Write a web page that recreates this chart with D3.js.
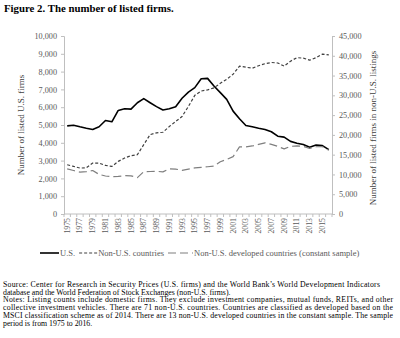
<!DOCTYPE html>
<html>
<head>
<meta charset="utf-8">
<script src="https://cdn.jsdelivr.net/npm/d3@7/dist/d3.min.js"></script>
<style>
  body { margin: 0; background: #fff; }
  text { font-family: "Liberation Serif", "Times New Roman", serif; }
</style>
</head>
<body>
<div id="chart"></div>
<script>
// Anos da série
const years = d3.range(1975, 2017);

// Empresas listadas nos EUA (eixo esquerdo)
const usFirms = [4950, 4990, 4900, 4820, 4750, 4900, 5250, 5180, 5820, 5910,
  5890, 6250, 6480, 6250, 6030, 5840, 5910, 6030, 6500, 6850,
  7100, 7600, 7620, 7190, 6820, 6440, 5780, 5350, 4970, 4900,
  4820, 4750, 4620, 4370, 4320, 4080, 3980, 3900, 3750, 3870,
  3840, 3620];

// Empresas listadas fora dos EUA (eixo direito)
const nonUS = [12450, 12030, 11610, 11690, 12880, 12880, 12280, 12030, 13300, 14150,
  14740, 15000, 17540, 20080, 20500, 20670, 22100, 23400, 24650, 27200,
  30000, 31090, 31390, 31900, 33050, 34060, 35330, 37370, 37110, 36860,
  37490, 38000, 38300, 38180, 37370, 38640, 39530, 39400, 38890, 39530,
  40420, 40240];

// Países desenvolvidos fora dos EUA, amostra constante (eixo direito)
const nonUSDev = [11400, 11000, 10600, 10700, 11000, 10000, 9600, 9450, 9500, 9700,
  9650, 9200, 10700, 10750, 10800, 10650, 11400, 11350, 11050, 11350,
  11650, 11800, 11950, 12100, 13200, 13800, 14500, 16950, 16950, 17200,
  17600, 18000, 17600, 17100, 16450, 17100, 17200, 17100, 16600, 17000,
  17000, 16100];

const leftTicks = d3.range(0, 10001, 1000);
const rightTicks = d3.range(0, 45001, 5000);
const yearLabels = years.filter((d, i) => i % 2 === 0);

const notes = [
  "Source: Center for Research in Security Prices (U.S. firms) and the World Bank\u2019s World Development Indicators",
  "database and the World Federation of Stock Exchanges (non-U.S. firms).",
  "Notes: Listing counts include domestic firms. They exclude investment companies, mutual funds, REITs, and other",
  "collective investment vehicles. There are 71 non-U.S. countries. Countries are classified as developed based on the",
  "MSCI classification scheme as of 2014. There are 13 non-U.S. developed countries in the constant sample. The sample",
  "period is from 1975 to 2016."
];
// largura das linhas justificadas
const noteWidths = [377, null, 390, 390, 390, null];

const W = 400, H = 338;
const plot = { left: 64, right: 332, top: 36, bottom: 214 };

const svg = d3.select("#chart").append("svg")
  .attr("width", W)
  .attr("height", H);

svg.append("text")
  .attr("x", 4).attr("y", 12)
  .style("font-size", "10.8px")
  .style("font-weight", "bold")
  .text("Figure 2. The number of listed firms.");

const x = d3.scaleBand().domain(years).range([plot.left, plot.right]);
const cx = d => x(d) + x.bandwidth() / 2;

const yL = d3.scaleLinear().domain([0, 10000]).range([plot.bottom, plot.top]);
const yR = d3.scaleLinear().domain([0, 45000]).range([plot.bottom, plot.top]);

const fmt = d3.format(",");
const axisColor = "#bfbfbf";
const labelColor = "#595959";

// Eixo esquerdo
const gL = svg.append("g")
  .attr("transform", "translate(" + plot.left + ",0)")
  .call(d3.axisLeft(yL).tickValues(leftTicks).tickFormat(fmt).tickSize(3).tickPadding(4));

// Eixo direito
const gR = svg.append("g")
  .attr("transform", "translate(" + plot.right + ",0)")
  .call(d3.axisRight(yR).tickValues(rightTicks).tickFormat(fmt).tickSize(3).tickPadding(4));

// Eixo de anos
const gX = svg.append("g")
  .attr("transform", "translate(0," + plot.bottom + ")")
  .call(d3.axisBottom(x).tickValues(yearLabels).tickSize(0).tickPadding(3));

gX.selectAll("text")
  .attr("transform", "rotate(-90)")
  .attr("x", -4).attr("y", 0).attr("dy", "0.32em")
  .style("text-anchor", "end");

// marcas entre as categorias
gX.selectAll(".sep")
  .data(years.concat([2017]))
  .enter().append("line")
  .attr("class", "sep")
  .attr("x1", d => d === 2017 ? plot.right : x(d))
  .attr("x2", d => d === 2017 ? plot.right : x(d))
  .attr("y1", 0).attr("y2", 3)
  .attr("stroke", axisColor);

[gL, gR, gX].forEach(g => {
  g.selectAll(".domain").attr("stroke", axisColor);
  g.selectAll(".tick line").attr("stroke", axisColor);
  g.selectAll("text")
    .style("font-family", "'Liberation Serif', serif")
    .style("font-size", "8.2px")
    .attr("fill", labelColor);
});
gX.selectAll("text").style("font-size", "7.8px");
gX.select(".domain").attr("d", "M" + plot.left + ",0H" + plot.right);

// Títulos dos eixos
svg.append("text")
  .attr("transform", "translate(24," + ((plot.top + plot.bottom) / 2) + ") rotate(-90)")
  .style("text-anchor", "middle")
  .style("font-size", "9px")
  .attr("fill", "#404040")
  .text("Number of listed U.S. firms");

svg.append("text")
  .attr("transform", "translate(376," + ((plot.top + plot.bottom) / 2 + 3) + ") rotate(-90)")
  .style("text-anchor", "middle")
  .style("font-size", "9px")
  .attr("fill", "#404040")
  .text("Number of listed firms in non-U.S. listings");

// Séries
const series = [
  { label: "U.S.", values: usFirms, y: yL, color: "#000", dash: null, width: 1.6, len: 19 },
  { label: "Non-U.S. countries", values: nonUS, y: yR, color: "#404040", dash: "3,2", width: 1.2, len: 18 },
  { label: "Non-U.S. developed countries (constant sample)", values: nonUSDev, y: yR, color: "#7f7f7f", dash: "8,4", width: 1.2, len: 25 }
];

series.forEach(s => {
  const line = d3.line()
    .x((d, i) => cx(years[i]))
    .y(d => s.y(d));
  svg.append("path")
    .datum(s.values)
    .attr("fill", "none")
    .attr("stroke", s.color)
    .attr("stroke-width", s.width)
    .attr("stroke-dasharray", s.dash)
    .attr("stroke-linejoin", "round")
    .attr("d", line);
});

// Legenda, itens em sequência
const legY = 253;
let lx = 40;
series.forEach(s => {
  svg.append("line")
    .attr("x1", lx).attr("x2", lx + s.len)
    .attr("y1", legY).attr("y2", legY)
    .attr("stroke", s.color)
    .attr("stroke-width", s.width)
    .attr("stroke-dasharray", s.dash);
  const t = svg.append("text")
    .attr("x", lx + s.len + 1).attr("y", legY)
    .attr("dy", "0.32em")
    .style("font-size", "8.5px")
    .attr("fill", labelColor)
    .text(s.label);
  lx += s.len + 1 + t.node().getComputedTextLength() + 4;
});

// Notas de rodapé
svg.append("g").selectAll("text")
  .data(notes)
  .enter().append("text")
  .attr("x", 3)
  .attr("y", (d, i) => 286.8 + i * 7.75)
  .style("font-size", "7.8px")
  .attr("fill", "#000")
  .each(function(d, i) {
    if (noteWidths[i]) {
      d3.select(this).attr("textLength", noteWidths[i]).attr("lengthAdjust", "spacing");
    }
  })
  .text(d => d);
</script>
</body>
</html>
